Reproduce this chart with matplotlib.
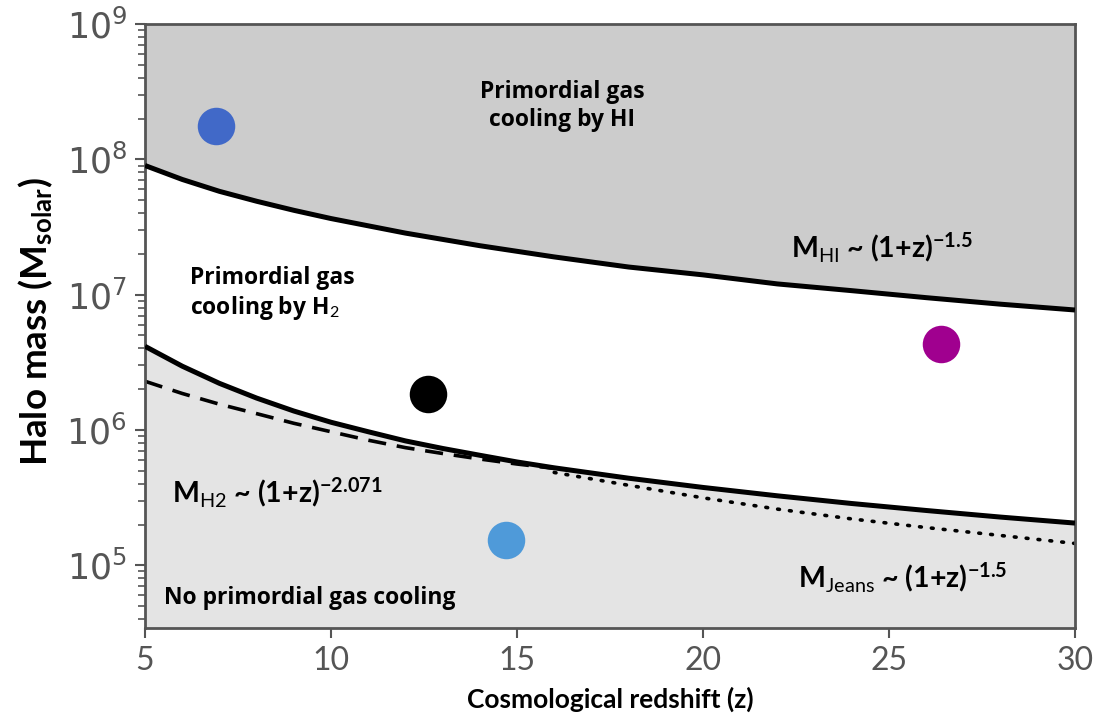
import matplotlib.pyplot as plt
from matplotlib.ticker import LogLocator

plt.rcParams['mathtext.fontset'] = 'custom'
plt.rcParams['mathtext.rm'] = 'Lato'
plt.rcParams['mathtext.bf'] = 'Lato:bold'
plt.rcParams['mathtext.it'] = 'Lato:italic'

# HI cooling threshold (upper solid line)
z_hi = [5, 6, 7, 8, 9, 10, 12, 14, 16, 18, 20, 22, 24, 26, 28, 30]
m_hi = [9.0e7, 7.1e7, 5.8e7, 4.9e7, 4.2e7, 3.65e7, 2.85e7, 2.3e7, 1.9e7,
        1.6e7, 1.4e7, 1.2e7, 1.07e7, 9.5e6, 8.5e6, 7.7e6]

# lower solid line (H2 cooling threshold)
z_low = [5, 6, 7, 8, 9, 10, 11, 12, 13, 14, 15, 16, 18, 20, 22, 24, 26, 28, 30]
m_low = [4.15e6, 2.96e6, 2.21e6, 1.72e6, 1.38e6, 1.14e6, 9.7e5, 8.3e5, 7.3e5,
         6.5e5, 5.8e5, 5.25e5, 4.4e5, 3.76e5, 3.26e5, 2.86e5, 2.54e5, 2.27e5, 2.05e5]

# dashed H2 curve
z_h2 = [5, 6, 7, 8, 9, 10, 11, 12, 13, 14, 15, 16]
m_h2 = [2.29e6, 1.86e6, 1.55e6, 1.32e6, 1.12e6, 9.7e5, 8.4e5, 7.4e5, 6.7e5,
        6.1e5, 5.6e5, 5.2e5]

# dotted Jeans mass curve
z_jeans = [16, 18, 20, 22, 24, 26, 28, 30]
m_jeans = [4.85e5, 3.9e5, 3.15e5, 2.6e5, 2.2e5, 1.9e5, 1.66e5, 1.45e5]

# example halos
halo_z = [6.9, 12.6, 26.4, 14.7]
halo_m = [1.75e8, 1.85e6, 4.3e6, 1.55e5]
halo_colors = ['#4169c8', '#000000', '#a0008f', '#4f9ad9']

y_ticks = [1e5, 1e6, 1e7, 1e8, 1e9]
y_labels = [r'$\mathdefault{10^{5}}$', r'$\mathdefault{10^{6}}$', r'$\mathdefault{10^{7}}$',
            r'$\mathdefault{10^{8}}$', r'$\mathdefault{10^{9}}$']
x_ticks = [5, 10, 15, 20, 25, 30]

W, H = 1103, 719
fig = plt.figure(figsize=(W / 100, H / 100), dpi=100)
ax = fig.add_axes([0.1315, 0.1266, 0.8431, 0.84])
ax.set_yscale('log')
ax.set_xlim(5, 30)
ax.set_ylim(3.44e4, 1e9)


def put(x, y, s, **kw):
    # place text by pixel position measured from the top-left corner
    fig.text(x / W, 1 - y / H, s, **kw)


# shaded regions
ax.fill_between(z_hi, m_hi, 1e10, color='#cccccc', lw=0, zorder=0)
ax.fill_between(z_low, 1e3, m_low, color='#e4e4e4', lw=0, zorder=0)

ax.plot(z_hi, m_hi, color='black', lw=3.6, solid_capstyle='butt', zorder=3)
ax.plot(z_low, m_low, color='black', lw=3.6, solid_capstyle='butt', zorder=3)
ax.plot(z_h2, m_h2, color='black', lw=2.6, dashes=(5, 3), zorder=2)
ax.plot(z_jeans, m_jeans, color='black', lw=2.6, dashes=(0.5, 2.8),
        dash_capstyle='round', zorder=2)

for z, m, c in zip(halo_z, halo_m, halo_colors):
    ax.plot(z, m, 'o', color=c, ms=27, mec='none', zorder=4)

# labels inside the plot
tk = dict(fontfamily='Open Sans', fontweight='bold', fontsize=16.5, color='black')
put(562, 106, 'Primordial gas\ncooling by HI', ha='center', va='center',
    linespacing=1.25, **tk)
put(190, 294, 'Primordial gas\ncooling by H$_\\mathrm{2}$', ha='left', va='center',
    linespacing=1.25, **tk)
put(164, 598, 'No primordial gas cooling', ha='left', va='center', **tk)

fk = dict(fontfamily='Lato', fontweight='bold', fontsize=20.5, color='black')
put(882, 247, r'M$_\mathrm{HI}$ ~ (1+z)$^{\mathbf{-1.5}}$', ha='center', va='center', **fk)
put(172, 492, r'M$_\mathrm{H2}$ ~ (1+z)$^{\mathbf{-2.071}}$', ha='left', va='center', **fk)
put(903, 577, r'M$_\mathrm{Jeans}$ ~ (1+z)$^{\mathbf{-1.5}}$', ha='center', va='center', **fk)

# axes styling
for s in ax.spines.values():
    s.set_color('#555555')
    s.set_linewidth(2)

ax.set_xticks(x_ticks)
ax.set_xticklabels([str(t) for t in x_ticks], fontfamily='Lato', fontsize=23, color='#555555')
ax.set_yticks(y_ticks)
ax.set_yticklabels(y_labels, fontfamily='DejaVu Sans', fontsize=25, color='#555555')
ax.yaxis.set_minor_locator(LogLocator(base=10, subs=range(2, 10), numticks=30))
ax.tick_params(axis='both', which='major', direction='out', length=7, width=1.5,
               color='#555555', pad=6)
ax.tick_params(axis='y', which='minor', direction='out', length=5, width=1.2,
               color='#555555', left=True, labelleft=False)
ax.tick_params(axis='x', which='minor', bottom=False)

ax.set_xlabel('Cosmological redshift (z)', fontfamily='Lato', fontweight='bold',
              fontsize=19, labelpad=8)
put(36, 322, r'Halo mass (M$_\mathbf{solar}$)', rotation=90, ha='center', va='center',
    fontfamily='Lato', fontweight='bold', fontsize=26.5)

fig.savefig('out.png', dpi=100)
